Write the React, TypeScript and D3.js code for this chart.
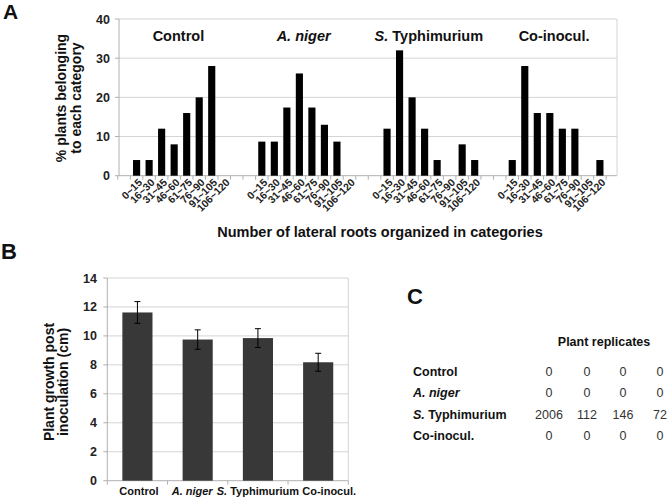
import React from "react";
import * as d3 from "d3";

const groups = ["Control", "A. niger", "S. Typhimurium", "Co-inocul."];
const rootRanges = ["0~15", "16~30", "31~45", "46~60", "61~75", "76~90", "91~105", "106~120"];
const controlPct = [4, 4, 12, 8, 16, 20, 28, 0];
const nigerPct = [8.7, 8.7, 17.4, 26.1, 17.4, 13.0, 8.7, 0];
const typhPct = [12, 32, 20, 12, 4, 0, 8, 4];
const coinoculPct = [4, 28, 16, 16, 12, 12, 0, 4];
const yTicksA = [0, 10, 20, 30, 40];

const growthMean = [11.62, 9.75, 9.85, 8.18];
const growthErr = [0.75, 0.67, 0.65, 0.62];
const yTicksB = [0, 2, 4, 6, 8, 10, 12, 14];

const replicateRows = groups;
const replicateCounts = [
  [0, 0, 0, 0],
  [0, 0, 0, 0],
  [2006, 112, 146, 72],
  [0, 0, 0, 0],
];

const FONT = "'Liberation Sans', Arial, sans-serif";
const GRID = "#d4d4d4";
const AXIS = "#b0b0b0";
// horizontal nudges of panel B category labels (layout only)
const labelNudgeB = [1.5, -5.5, 0, 11];

function Name({ name }: { name: string }) {
  if (name === "A. niger") return <tspan fontStyle="italic">A. niger</tspan>;
  if (name === "S. Typhimurium")
    return (
      <>
        <tspan fontStyle="italic">S.</tspan>
        <tspan> Typhimurium</tspan>
      </>
    );
  return <>{name}</>;
}

export default function App() {
  const seriesA = [controlPct, nigerPct, typhPct, coinoculPct];
  const slots: string[] = [];
  const bars: { key: string; g: number; c: number; v: number }[] = [];
  slots.push("b-start");
  groups.forEach((g, gi) => {
    rootRanges.forEach((r, ri) => {
      const key = `${gi}-${ri}`;
      slots.push(key);
      bars.push({ key, g: gi, c: ri, v: seriesA[gi][ri] });
    });
    if (gi < groups.length - 1) {
      slots.push(`b${gi}a`);
      slots.push(`b${gi}b`);
    } else slots.push("b-end");
  });

  const axL = 119, axR = 617, axT = 19, axB = 175.7;
  const xA = d3.scaleBand<string>().domain(slots).range([120.5, 616]).paddingInner(0.43);
  const xStep = xA.step();
  const yA = d3.scaleLinear().domain([0, 40]).range([axB, axT]);

  const bL = 107.3, bR = 348.3, bT = 278, bB = 480.7;
  const xB = d3.scaleBand<string>().domain(groups).range([bL, bR]).paddingInner(0.5).paddingOuter(0.25);
  const yB = d3.scaleLinear().domain([0, 14]).range([bB, bT]);
  const stepB = xB.step();

  const colX = [549, 587, 623, 660];
  const rowY = [376, 397, 418.5, 439.5];

  return (
    <svg
      width={667}
      height={501}
      style={{ position: "absolute", left: 0, top: 0, background: "#fff" }}
      fontFamily={FONT}
    >
      <rect x={0} y={0} width={667} height={501} fill="#fff" />
      <text x={3} y={19} fontSize={21} fontWeight="bold" fill="#111">A</text>
      <text x={1} y={259} fontSize={22} fontWeight="bold" fill="#111">B</text>
      <text x={407} y={304} fontSize={22} fontWeight="bold" fill="#111">C</text>

      {/* ---------- Panel A ---------- */}
      {yTicksA.map((t) => (
        <g key={t}>
          <line x1={axL} x2={axR} y1={yA(t)} y2={yA(t)} stroke={t === 0 ? AXIS : GRID} strokeWidth={1} />
          <line x1={axL - 4} x2={axL} y1={yA(t)} y2={yA(t)} stroke={AXIS} />
          <text x={110} y={yA(t) + 4.5} textAnchor="end" fontSize={12.5} fontWeight="bold" fill="#222">
            {t}
          </text>
        </g>
      ))}
      <line x1={axL} x2={axL} y1={axT} y2={axB} stroke={AXIS} />
      <line x1={axR} x2={axR} y1={axT} y2={axB} stroke={GRID} />
      {slots.map((s, i) => {
        const x0 = (xA(s) as number) - (xStep - xA.bandwidth()) / 2;
        return <line key={"tk" + i} x1={x0} x2={x0} y1={axB} y2={axB + 4} stroke={AXIS} />;
      })}
      {bars.map((b) => (
        <rect
          key={b.key}
          x={xA(b.key)}
          y={yA(b.v)}
          width={xA.bandwidth()}
          height={axB - yA(b.v)}
          fill="#000"
        />
      ))}
      {bars.map((b) => {
        const cx = (xA(b.key) as number) + xA.bandwidth() / 2;
        return (
          <text
            key={"lbl" + b.key}
            transform={`translate(${cx + 4},${181}) rotate(-45)`}
            textAnchor="end"
            fontSize={10.5}
            fontWeight="bold"
            fill="#222"
            dy="0.3em"
          >
            {rootRanges[b.c]}
          </text>
        );
      })}
      {groups.map((g, gi) => {
        const first = xA(`${gi}-0`) as number;
        const last = (xA(`${gi}-7`) as number) + xA.bandwidth();
        return (
          <text key={"gt" + g} x={(first + last) / 2 - 2} y={40.7} textAnchor="middle" fontSize={14.5} fontWeight="bold" fill="#111">
            <Name name={g} />
          </text>
        );
      })}
      <text transform="translate(66,98) rotate(-90)" textAnchor="middle" fontSize={14} fontWeight="bold" fill="#111">
        % plants belonging
      </text>
      <text transform="translate(80.5,98) rotate(-90)" textAnchor="middle" fontSize={14} fontWeight="bold" fill="#111">
        to each category
      </text>
      <text x={380} y={237} textAnchor="middle" fontSize={14.5} fontWeight="bold" fill="#111">
        Number of lateral roots organized in categories
      </text>

      {/* ---------- Panel B ---------- */}
      {yTicksB.map((t) => (
        <g key={"b" + t}>
          <line x1={bL} x2={bR} y1={yB(t)} y2={yB(t)} stroke={t === 0 ? AXIS : GRID} />
          <line x1={bL - 4} x2={bL} y1={yB(t)} y2={yB(t)} stroke={AXIS} />
          <text x={97} y={yB(t) + 4.5} textAnchor="end" fontSize={12.5} fontWeight="bold" fill="#222">
            {t}
          </text>
        </g>
      ))}
      <line x1={bL} x2={bL} y1={bT} y2={bB} stroke={AXIS} />
      <line x1={bR} x2={bR} y1={bT} y2={bB} stroke={GRID} />
      {groups.map((g, i) => {
        const x0 = (xB(g) as number) - (stepB - xB.bandwidth()) / 2;
        return <line key={"btk" + i} x1={x0} x2={x0} y1={bB} y2={bB + 4} stroke={AXIS} />;
      })}
      <line x1={bR} x2={bR} y1={bB} y2={bB + 4} stroke={AXIS} />
      {groups.map((g, i) => {
        const x = xB(g) as number;
        const w = xB.bandwidth();
        const cx = x + w / 2;
        const top = yB(growthMean[i] + growthErr[i]);
        const bot = yB(growthMean[i] - growthErr[i]);
        return (
          <g key={"bb" + g}>
            <rect x={x} y={yB(growthMean[i])} width={w} height={bB - yB(growthMean[i])} fill="#383838" />
            <line x1={cx} x2={cx} y1={top} y2={bot} stroke="#000" />
            <line x1={cx - 3} x2={cx + 3} y1={top} y2={top} stroke="#000" />
            <line x1={cx - 3} x2={cx + 3} y1={bot} y2={bot} stroke="#000" />
            <text x={cx + labelNudgeB[i]} y={495} textAnchor="middle" fontSize={11} fontWeight="bold" fill="#111">
              <Name name={g} />
            </text>
          </g>
        );
      })}
      <text transform="translate(54,382) rotate(-90)" textAnchor="middle" fontSize={14} fontWeight="bold" fill="#111">
        Plant growth post
      </text>
      <text transform="translate(67.5,382) rotate(-90)" textAnchor="middle" fontSize={14} fontWeight="bold" fill="#111">
        inoculation (cm)
      </text>

      {/* ---------- Panel C ---------- */}
      <text x={604} y={346} textAnchor="middle" fontSize={12.5} fontWeight="bold" fill="#111">
        Plant replicates
      </text>
      {replicateRows.map((r, ri) => (
        <g key={"row" + r}>
          <text x={413} y={rowY[ri]} fontSize={12.5} fontWeight="bold" fill="#111">
            <Name name={r} />
          </text>
          {replicateCounts[ri].map((v, ci) => (
            <text key={ci} x={colX[ci]} y={rowY[ri]} textAnchor="middle" fontSize={12.5} fill="#333">
              {v}
            </text>
          ))}
        </g>
      ))}
    </svg>
  );
}
